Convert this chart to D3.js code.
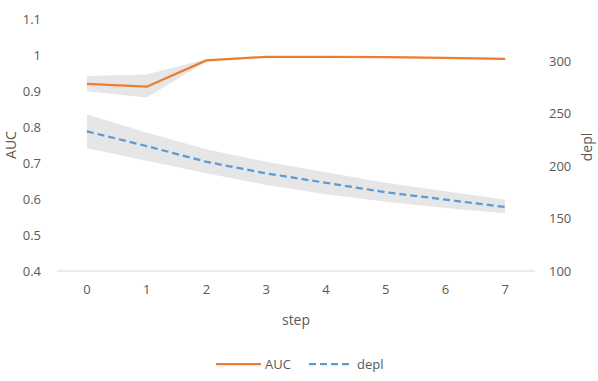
<!DOCTYPE html>
<html>
<head>
<meta charset="utf-8">
<script src="https://cdn.jsdelivr.net/npm/d3@7"></script>
<style>
  body { margin: 0; background: #fff; }
  text { font-family: "Open Sans", "Liberation Sans", sans-serif; fill: #595959; }
</style>
</head>
<body>
<div id="chart"></div>
<script>
var steps = [0, 1, 2, 3, 4, 5, 6, 7];
var auc = [0.920, 0.912, 0.985, 0.995, 0.995, 0.994, 0.992, 0.989];
var aucHigh = [0.942, 0.946, 0.988, 0.997, 0.997, 0.996, 0.994, 0.991];
var aucLow = [0.899, 0.882, 0.982, 0.993, 0.993, 0.992, 0.990, 0.987];
var depl = [233, 219, 204, 193, 184, 175, 168, 161];
var deplHigh = [249, 232, 216, 204, 194, 184, 176, 168];
var deplLow = [217, 205, 193, 182, 173, 166, 160, 155];
var leftTicks = [0.4, 0.5, 0.6, 0.7, 0.8, 0.9, 1, 1.1];
var rightTicks = [100, 150, 200, 250, 300];

var W = 598, H = 381;
var margin = {top: 19, right: 63, bottom: 110, left: 57},
    width = W - margin.left - margin.right,
    height = H - margin.top - margin.bottom;

var svg = d3.select("#chart").append("svg")
            .attr("width", W)
            .attr("height", H);
var g = svg.append("g").attr("transform", "translate(" + margin.left + "," + margin.top + ")");

// scales
var x = d3.scaleBand().domain(steps).range([0, width]);
var cx = function(d) { return x(d) + x.bandwidth() / 2; };
var yL = d3.scaleLinear().domain([0.4, 1.1]).range([height, 0]);
var yR = d3.scaleLinear().domain([100, 340]).range([height, 0]);

// bands
var aucArea = d3.area()
  .x(function(d, i) { return cx(steps[i]); })
  .y0(function(d, i) { return yL(aucLow[i]); })
  .y1(function(d, i) { return yL(aucHigh[i]); });
var deplArea = d3.area()
  .x(function(d, i) { return cx(steps[i]); })
  .y0(function(d, i) { return yR(deplLow[i]); })
  .y1(function(d, i) { return yR(deplHigh[i]); });

g.append("path").datum(steps).attr("d", aucArea).attr("fill", "#e6e6e6");
g.append("path").datum(steps).attr("d", deplArea).attr("fill", "#e6e6e6");

// x axis line
g.append("line")
  .attr("x1", 0).attr("x2", width)
  .attr("y1", height).attr("y2", height)
  .attr("stroke", "#d9d9d9").attr("stroke-width", 1);

// lines
var aucLine = d3.line()
  .x(function(d, i) { return cx(steps[i]); })
  .y(function(d) { return yL(d); });
var deplLine = d3.line()
  .x(function(d, i) { return cx(steps[i]); })
  .y(function(d) { return yR(d); });

g.append("path").datum(depl).attr("d", deplLine)
  .attr("fill", "none").attr("stroke", "#5B9BD5")
  .attr("stroke-width", 2.25).attr("stroke-dasharray", "7,4");
g.append("path").datum(auc).attr("d", aucLine)
  .attr("fill", "none").attr("stroke", "#ED7D31")
  .attr("stroke-width", 2.25).attr("stroke-linejoin", "round");

// axes
var xAxis = d3.axisBottom(x).tickSize(0).tickPadding(14);
var gx = g.append("g").attr("transform", "translate(0," + height + ")").call(xAxis);
gx.select(".domain").remove();

var yAxisL = d3.axisLeft(yL).tickValues(leftTicks).tickSize(0).tickPadding(16)
  .tickFormat(function(d) { return d3.format("")(+d.toFixed(1)); });
var gl = g.append("g").call(yAxisL);
gl.select(".domain").remove();

var yAxisR = d3.axisRight(yR).tickValues(rightTicks).tickSize(0).tickPadding(14);
var gr = g.append("g").attr("transform", "translate(" + width + ",0)").call(yAxisR);
gr.select(".domain").remove();

svg.selectAll(".tick text")
  .style("font-family", "'Open Sans', 'Liberation Sans', sans-serif")
  .style("font-size", "13px").attr("fill", "#595959");

// axis titles
svg.append("text").attr("transform", "translate(16,145) rotate(-90)")
  .attr("text-anchor", "middle").style("font-size", "14px").text("AUC");
svg.append("text").attr("transform", "translate(592,147) rotate(-90)")
  .attr("text-anchor", "middle").style("font-size", "14px").text("depl");
svg.append("text").attr("x", margin.left + width / 2).attr("y", 325)
  .attr("text-anchor", "middle").style("font-size", "14px").text("step");

// legend
var leg = svg.append("g").attr("transform", "translate(216,364)");
leg.append("line").attr("x1", 0).attr("x2", 45).attr("y1", 0).attr("y2", 0)
  .attr("stroke", "#ED7D31").attr("stroke-width", 2.25);
leg.append("text").attr("x", 49).attr("y", 5).style("font-size", "13px").text("AUC");
leg.append("line").attr("x1", 93).attr("x2", 136).attr("y1", 0).attr("y2", 0)
  .attr("stroke", "#5B9BD5").attr("stroke-width", 2.25).attr("stroke-dasharray", "7,4");
leg.append("text").attr("x", 141).attr("y", 5).style("font-size", "13px").text("depl");
</script>
</body>
</html>
